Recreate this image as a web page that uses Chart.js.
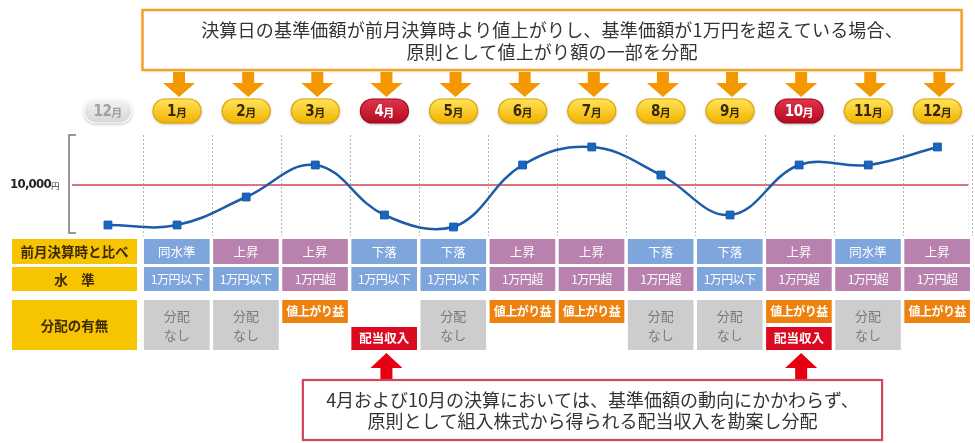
<!DOCTYPE html>
<html><head><meta charset="utf-8">
<script src="https://cdn.jsdelivr.net/npm/chart.js@4"></script>
<style>html,body{margin:0;padding:0;background:#fff;overflow:hidden}canvas{display:block}</style>
</head><body>
<canvas id="c" width="975" height="443"></canvas>
<script>
// ---- data ----
const months = ['12月','1月','2月','3月','4月','5月','6月','7月','8月','9月','10月','11月','12月'];
const navValues = [9000, 9000, 9700, 10500, 9250, 8950, 10500, 10950, 10250, 9250, 10500, 10500, 10950];
const baseValue = 10000;
const baseLabel = '10,000';
const dividendMonths = [4, 10];
const comparisons = ['同水準','上昇','上昇','下落','下落','上昇','上昇','下落','下落','上昇','同水準','上昇'];
const levels = ['1万円以下','1万円以下','1万円超','1万円以下','1万円以下','1万円超','1万円超','1万円超','1万円以下','1万円超','1万円超','1万円超'];
const distributions = ['none','none','gain','dividend','none','gain','gain','none','none','gain+dividend','none','gain'];
const rowLabels = ['前月決算時と比べ','水　準','分配の有無'];
const headerLines = ['決算日の基準価額が前月決算時より値上がりし、基準価額が1万円を超えている場合、','原則として値上がり額の一部を分配'];
const footerLines = ['4月および10月の決算においては、基準価額の動向にかかわらず、','原則として組入株式から得られる配当収入を勘案し分配'];
const noneText = ['分配','なし'];
const gainText = '値上がり益';
const dividendText = '配当収入';

const JP = '"Noto Sans CJK JP","Noto Sans",sans-serif';
const NARROW = '"Liberation Sans Narrow","DejaVu Sans Condensed",sans-serif';
const BLUE = '#7ea6dc', MAUVE = '#b981ad', YEL = '#f6c400';

function rr(ctx,x,y,w,h,r){ctx.beginPath();ctx.roundRect(x,y,w,h,r);}
function downArrow(ctx,cx,top,bottom,color){
  const headTop = top + (bottom-top)*0.44;
  ctx.fillStyle=color;ctx.beginPath();
  ctx.moveTo(cx-6,top);ctx.lineTo(cx+6,top);ctx.lineTo(cx+6,headTop);ctx.lineTo(cx+16,headTop);
  ctx.lineTo(cx,bottom);ctx.lineTo(cx-16,headTop);ctx.lineTo(cx-6,headTop);ctx.closePath();ctx.fill();
}
function upArrow(ctx,cx,tip,bottom,color){
  const headBase = tip + 15;
  ctx.fillStyle=color;ctx.beginPath();
  ctx.moveTo(cx,tip);ctx.lineTo(cx+16,headBase);ctx.lineTo(cx+6,headBase);ctx.lineTo(cx+6,bottom);
  ctx.lineTo(cx-6,bottom);ctx.lineTo(cx-6,headBase);ctx.lineTo(cx-16,headBase);ctx.closePath();ctx.fill();
}

const underlay = {
  id:'underlay',
  beforeDatasetsDraw(chart){
    const ctx=chart.ctx, xs=chart.scales.x, ys=chart.scales.y, a=chart.chartArea;
    ctx.save();
    ctx.strokeStyle='#b4b4b4';ctx.lineWidth=1;ctx.setLineDash([2,2]);
    for(let i=0;i<months.length;i++){
      const x=Math.round(xs.getPixelForValue(i+0.5))+0.5;
      ctx.beginPath();ctx.moveTo(x,a.top);ctx.lineTo(x,a.bottom+3);ctx.stroke();
    }
    ctx.setLineDash([]);
    const yb=ys.getPixelForValue(baseValue);
    ctx.strokeStyle='#dc7482';ctx.lineWidth=2.2;
    ctx.beginPath();ctx.moveTo(a.left,yb);ctx.lineTo(a.right,yb);ctx.stroke();
    ctx.strokeStyle='#777';ctx.lineWidth=1.5;
    ctx.beginPath();ctx.moveTo(a.left+4,a.top);ctx.lineTo(a.left-3,a.top);ctx.lineTo(a.left-3,a.bottom);ctx.lineTo(a.left+4,a.bottom);ctx.stroke();
    ctx.fillStyle='#222';ctx.textBaseline='middle';ctx.textAlign='left';
    ctx.font='bold 13px '+NARROW;
    ctx.letterSpacing='-0.7px';
    const w1=ctx.measureText(baseLabel).width;
    ctx.fillText(baseLabel,10,yb);
    ctx.letterSpacing='0px';
    ctx.font='8.5px '+JP;ctx.fillStyle='#333';
    ctx.fillText('円',10+w1,yb+1);
    ctx.restore();
  }
};

const overlay = {
  id:'overlay',
  afterDraw(chart){
    const ctx=chart.ctx, xs=chart.scales.x;
    const X=v=>xs.getPixelForValue(v);
    ctx.save();
    // header box
    const hx1=X(0.5), hx2=X(12.35);
    ctx.shadowColor='rgba(0,0,0,0.18)';ctx.shadowBlur=3;ctx.shadowOffsetY=1;
    ctx.fillStyle='#fff';ctx.fillRect(hx1,10,hx2-hx1,60);
    ctx.shadowColor='transparent';
    ctx.strokeStyle='#f3a12a';ctx.lineWidth=2.5;ctx.strokeRect(hx1,10,hx2-hx1,60);
    ctx.fillStyle='#333';ctx.font='18px '+JP;ctx.textAlign='center';ctx.textBaseline='middle';
    ctx.letterSpacing='0.2px';
    const hc=(hx1+hx2)/2;
    ctx.fillText(headerLines[0],hc,30);
    ctx.fillText(headerLines[1],hc,52);
    ctx.letterSpacing='0px';
    // orange arrows + pills
    for(let i=0;i<months.length;i++){
      const cx=X(i);
      if(i>0) downArrow(ctx,cx+2,72,97,'#f39800');
      const isDiv=dividendMonths.includes(i);
      const pw=48, ph=24, py=99;
      ctx.shadowColor='rgba(0,0,0,0.35)';ctx.shadowBlur=3;ctx.shadowOffsetY=1;
      let g=ctx.createLinearGradient(0,py,0,py+ph);
      if(i===0){g.addColorStop(0,'#f4f4f4');g.addColorStop(1,'#d6d6d6');}
      else if(isDiv){g.addColorStop(0,'#e0344a');g.addColorStop(1,'#b30c22');}
      else {g.addColorStop(0,'#ffe45a');g.addColorStop(1,'#f1b300');}
      rr(ctx,cx-pw/2,py,pw,ph,12);ctx.fillStyle=g;ctx.fill();
      ctx.shadowColor='transparent';
      ctx.lineWidth=1.2;ctx.strokeStyle=i===0?'#fff':(isDiv?'#a00a1e':'#e0a500');ctx.stroke();
      const txtColor=i===0?'#a0a0a0':(isDiv?'#fff':'#3a2800');
      const num=months[i].replace('月','');
      ctx.font='bold 15px '+NARROW;
      ctx.letterSpacing='-0.5px';
      const wn=ctx.measureText(num).width;
      ctx.letterSpacing='0px';
      ctx.font='bold 11px '+JP;
      const wm=ctx.measureText('月').width;
      const sx=cx-(wn+wm)/2;
      ctx.textAlign='left';ctx.fillStyle=txtColor;
      ctx.font='bold 15px '+NARROW;ctx.letterSpacing='-0.5px';
      ctx.fillText(num,sx,py+ph/2+1);
      ctx.letterSpacing='0px';
      ctx.font='bold 11px '+JP;
      ctx.fillText('月',sx+wn,py+ph/2+1.5);
    }
    ctx.textAlign='center';
    // row labels
    const lx=12, lw=125;
    const rows=[[239,25],[267,24],[300,50]];
    rows.forEach((r,k)=>{
      ctx.fillStyle=YEL;ctx.fillRect(lx,r[0],lw,r[1]);
      ctx.fillStyle='#3d2a00';ctx.font='bold 13.5px '+JP;
      ctx.fillText(rowLabels[k],lx+lw/2,r[0]+r[1]/2+0.5);
    });
    // table cells
    for(let m=1;m<=12;m++){
      const x1=X(m-0.5)+1.5, x2=X(m+0.5)-2, w=x2-x1, c=(x1+x2)/2;
      const cmp=comparisons[m-1], lv=levels[m-1], d=distributions[m-1];
      ctx.fillStyle=cmp==='上昇'?MAUVE:BLUE;ctx.fillRect(x1,rows[0][0],w,rows[0][1]);
      ctx.fillStyle=lv==='1万円超'?MAUVE:BLUE;ctx.fillRect(x1,rows[1][0],w,rows[1][1]);
      ctx.fillStyle='#fff';ctx.font='12.5px '+JP;
      ctx.fillText(cmp,c,rows[0][0]+rows[0][1]/2+0.5);
      ctx.font='12px '+JP;ctx.letterSpacing='-0.5px';
      ctx.fillText(lv,c,rows[1][0]+rows[1][1]/2+0.5);
      ctx.letterSpacing='0px';
      if(d==='none'){
        ctx.fillStyle='#cdcdcd';ctx.fillRect(x1,300,w,50);
        ctx.fillStyle='#7a7a7a';ctx.font='13px '+JP;
        ctx.fillText(noneText[0],c,316);ctx.fillText(noneText[1],c,335);
      }
      if(d.includes('gain')){
        ctx.fillStyle='#ee8210';ctx.fillRect(x1,300,w,23);
        ctx.fillStyle='#fff';ctx.font='bold 12px '+JP;ctx.letterSpacing='-0.5px';
        ctx.fillText(gainText,c,311.5);ctx.letterSpacing='0px';
      }
      if(d.includes('dividend')){
        ctx.fillStyle='#dc0a20';ctx.fillRect(x1,327,w,23);
        ctx.fillStyle='#fff';ctx.font='bold 12.5px '+JP;
        ctx.fillText(dividendText,c,338.5);
      }
    }
    dividendMonths.forEach(m=>upArrow(ctx,X(m)+2,353,381,'#e60012'));
    // footer box
    const fx1=X(2.82), fx2=X(11.2);
    ctx.fillStyle='#fff';ctx.fillRect(fx1,380,fx2-fx1,60);
    ctx.strokeStyle='#d2475a';ctx.lineWidth=2.2;ctx.strokeRect(fx1,380,fx2-fx1,60);
    ctx.fillStyle='#333';ctx.font='18px '+JP;
    const fc=(fx1+fx2)/2;
    ctx.fillText(footerLines[0],fc,400);
    ctx.fillText(footerLines[1],fc,421);
    ctx.restore();
  }
};

new Chart(document.getElementById('c'),{
  type:'line',
  data:{labels:months,datasets:[{
    data:navValues.map((v,i)=>({x:i,y:v})),
    borderColor:'#1d5ca8',borderWidth:2.5,tension:0.4,
    pointStyle:'rect',pointRadius:5.5,pointBackgroundColor:'#1767c2',pointBorderColor:'#1556a6',pointBorderWidth:1,
    clip:false
  }]},
  options:{
    responsive:false,devicePixelRatio:1,animation:false,
    layout:{padding:{left:72,right:0,top:135,bottom:210}},
    plugins:{legend:{display:false},tooltip:{enabled:false}},
    scales:{
      x:{type:'linear',min:-0.52,max:12.45,display:false},
      y:{min:8800,max:11250,display:false}
    }
  },
  plugins:[underlay,overlay]
});
</script>
</body></html>
